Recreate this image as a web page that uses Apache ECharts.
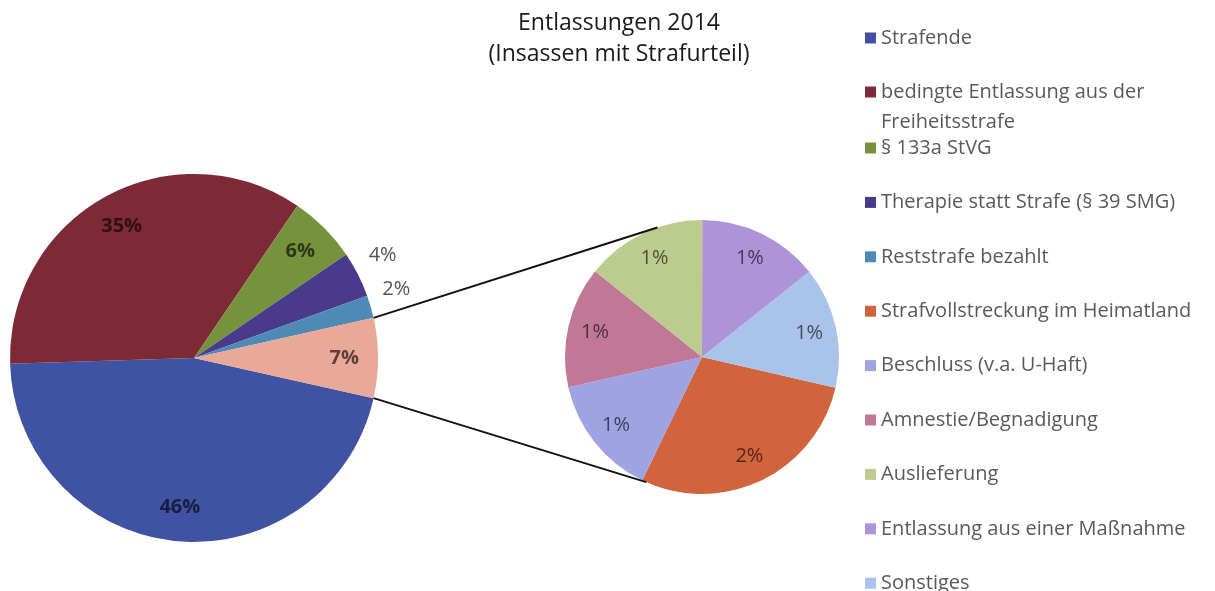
<!doctype html>
<html lang="de">
<head>
<meta charset="utf-8">
<title>Entlassungen 2014</title>
<script src="https://cdn.jsdelivr.net/npm/echarts@6/dist/echarts.min.js"></script>
<style>
  html, body { margin: 0; padding: 0; background: #fff; }
  #chart { width: 1215px; height: 591px; }
</style>
</head>
<body>
<div id="chart"></div>
<script>
  // Hauptkreis (Anteile in %)
  const mainNames = ['Strafende', 'bedingte Entlassung aus der Freiheitsstrafe', '§ 133a StVG',
    'Therapie statt Strafe (§ 39 SMG)', 'Reststrafe bezahlt'];
  const mainValues = [46, 35, 6, 4, 2];
  // Detailkreis (Aufteilung der übrigen 7 %)
  const detailNames = ['Strafvollstreckung im Heimatland', 'Beschluss (v.a. U-Haft)', 'Amnestie/Begnadigung',
    'Auslieferung', 'Entlassung aus einer Maßnahme', 'Sonstiges'];
  const detailValues = [2, 1, 1, 1, 1, 1];
  const otherName = 'Andere';

  const mainColors = ['#3f52a3', '#7e2a36', '#76923c', '#4a3a8c', '#4f89b6', '#e9a898'];
  const detailColors = ['#d1643c', '#9ea3e2', '#c07896', '#bccb8e', '#ad94d8', '#a9c3ea'];

  const font = 'Open Sans';
  const big = { cx: 194, cy: 358, r: 184 };
  const small = { cx: 702, cy: 357, r: 137 };
  const outsideIdx = [3, 4];          // Beschriftung außerhalb
  const connectAngles = [251, 114];   // Endpunkte der Verbindungslinien am Detailkreis (Grad, im Uhrzeigersinn)

  const otherValue = detailValues.reduce((a, b) => a + b, 0);
  const leftNames = mainNames.concat([otherName]);
  const leftValues = mainValues.concat([otherValue]);
  const total = leftValues.reduce((a, b) => a + b, 0);
  const half = otherValue / total * 180;

  const rad = d => d * Math.PI / 180;
  const lines = [
    [big.cx + big.r * Math.cos(rad(half)), big.cy - big.r * Math.sin(rad(half)),
     small.cx + small.r * Math.cos(rad(connectAngles[0])), small.cy + small.r * Math.sin(rad(connectAngles[0]))],
    [big.cx + big.r * Math.cos(rad(half)), big.cy + big.r * Math.sin(rad(half)),
     small.cx + small.r * Math.cos(rad(connectAngles[1])), small.cy + small.r * Math.sin(rad(connectAngles[1]))]
  ];

  const wrapped = { 'bedingte Entlassung aus der Freiheitsstrafe': ['bedingte Entlassung aus der', 'Freiheitsstrafe'] };
  const legendNames = mainNames.concat(detailNames);

  const labelText = { fontFamily: font, fontSize: 20, color: 'rgba(0,0,0,0.62)', formatter: '{c}%' };
  const legendText = { fontFamily: font, fontSize: 20, color: '#595959', lineHeight: 22 };

  const chart = echarts.init(document.getElementById('chart'));
  chart.setOption({
    animation: false,
    backgroundColor: '#fff',
    title: {
      text: 'Entlassungen 2014\n(Insassen mit Strafurteil)',
      left: 619, top: 8, padding: 0, textAlign: 'center',
      textStyle: { fontFamily: font, fontSize: 23, fontWeight: 'normal', color: '#1a1a1a', lineHeight: 31 }
    },
    legend: [
      {
        orient: 'vertical', left: 865, top: 27, padding: 0, height: 100,
        itemWidth: 11, itemHeight: 11, itemGap: 32,
        icon: 'rect', selectedMode: false, data: legendNames.slice(0, 2), textStyle: legendText,
        formatter: n => wrapped[n] ? wrapped[n][0] : n
      },
      {
        orient: 'vertical', left: 865, top: 137, padding: 0, height: 470,
        itemWidth: 11, itemHeight: 11, itemGap: 32.4,
        icon: 'rect', selectedMode: false, data: legendNames.slice(2), textStyle: legendText
      }
    ],
    graphic: lines.map(l => ({
      type: 'line', z: 10, silent: true,
      shape: { x1: l[0], y1: l[1], x2: l[2], y2: l[3] },
      style: { stroke: '#111', lineWidth: 2 }
    })).concat([{
      type: 'text', x: 881, y: 122, silent: true,
      style: { text: wrapped[mainNames[1]][1], fontFamily: font, fontSize: 20, fill: '#595959', verticalAlign: 'middle' }
    }]),
    series: [
      {
        type: 'pie', center: [big.cx, big.cy], radius: big.r, startAngle: -half,
        silent: true, avoidLabelOverlap: false,
        itemStyle: { borderWidth: 0 },
        label: Object.assign({ show: false, position: 'outside', distanceToLabelLine: 0 }, labelText, { color: '#555' }),
        labelLine: { show: false, length: 12, length2: 0 },
        labelLayout: { dy: -14 },
        data: leftNames.map((n, i) => ({
          name: n, value: leftValues[i], itemStyle: { color: mainColors[i] },
          label: { show: outsideIdx.includes(i) }
        }))
      },
      {
        // unsichtbarer Kreis nur für die inneren Beschriftungen
        type: 'pie', center: [big.cx, big.cy], radius: big.r * 2 * 0.8, startAngle: -half,
        silent: true, avoidLabelOverlap: false, z: 3,
        itemStyle: { color: 'rgba(0,0,0,0)', borderWidth: 0 },
        label: Object.assign({ show: true, position: 'inside', fontWeight: 'bold' }, labelText),
        labelLine: { show: false },
        data: leftNames.map((n, i) => ({
          name: n, value: leftValues[i], label: { show: !outsideIdx.includes(i) }
        }))
      },
      {
        type: 'pie', center: [small.cx, small.cy], radius: small.r, startAngle: -13,
        silent: true, avoidLabelOverlap: false,
        itemStyle: { borderWidth: 0 },
        label: { show: false },
        data: detailNames.map((n, i) => ({ name: n, value: detailValues[i], itemStyle: { color: detailColors[i] } }))
      },
      {
        type: 'pie', center: [small.cx, small.cy], radius: small.r * 2 * 0.78, startAngle: -13,
        silent: true, avoidLabelOverlap: false, z: 3,
        itemStyle: { color: 'rgba(0,0,0,0)', borderWidth: 0 },
        label: Object.assign({ show: true, position: 'inside' }, labelText),
        labelLine: { show: false },
        data: detailNames.map((n, i) => ({ name: n, value: detailValues[i] }))
      }
    ]
  });
</script>
</body>
</html>
